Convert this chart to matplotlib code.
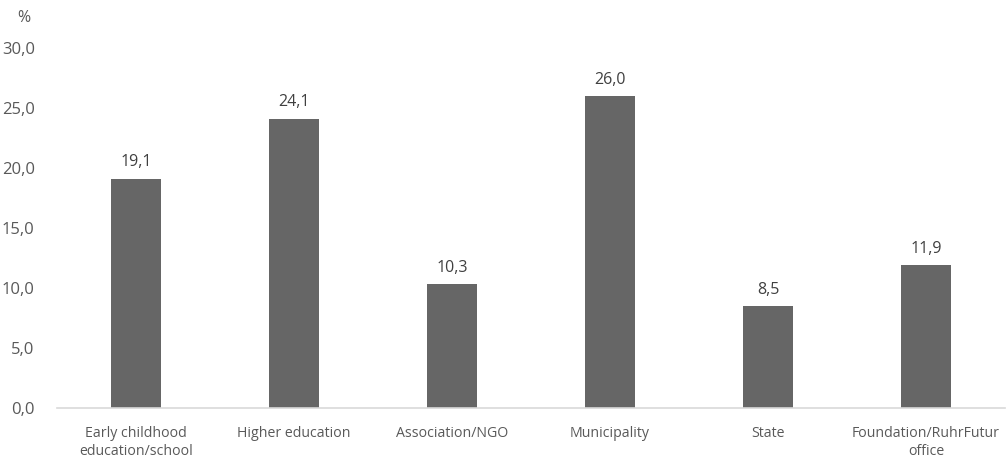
import matplotlib
matplotlib.use("Agg")
import matplotlib.pyplot as plt

categories = ["Early childhood\neducation/school", "Higher education", "Association/NGO",
              "Municipality", "State", "Foundation/RuhrFutur\noffice"]
values = [19.1, 24.1, 10.3, 26.0, 8.5, 11.9]
yticks = [0, 5, 10, 15, 20, 25, 30]

plt.rcParams['font.family'] = ['Open Sans', 'DejaVu Sans']
txt = '#595959'

fig = plt.figure(figsize=(10.07, 4.61), dpi=100)
ax = fig.add_axes([57/1007, 1-408/461, 948/1007, 360/461])
x = list(range(len(categories)))
ax.bar(x, values, width=0.32, color='#666666')
for xi, v in zip(x, values):
    ax.text(xi, v + 0.7, f"{v:.1f}".replace('.', ','), ha='center', va='bottom',
            fontsize=11.5, color='#404040')
ax.set_xlim(-0.5, len(categories) - 0.5)
ax.set_ylim(0, 30)
ax.set_yticks(yticks)
ax.set_yticklabels([f"{t:.1f}".replace('.', ',') for t in yticks], fontsize=12, color=txt)
ax.set_xticks(x)
ax.set_xticklabels(categories, fontsize=10.2, color=txt, linespacing=1.3)
for s in ['top', 'right', 'left']:
    ax.spines[s].set_visible(False)
ax.spines['bottom'].set_color('#d9d9d9')
ax.spines['bottom'].set_linewidth(1.2)
ax.tick_params(axis='both', length=0)
ax.tick_params(axis='y', pad=16)
ax.tick_params(axis='x', pad=13)
fig.text(24/1007, 1-18/461, "%", ha='center', va='center', fontsize=11.5, color=txt)
fig.savefig("out.png", dpi=100)
